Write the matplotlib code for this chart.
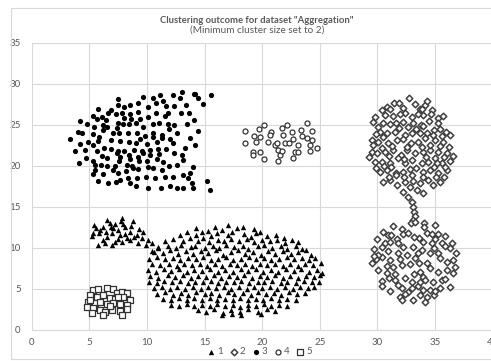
import matplotlib
matplotlib.use("Agg")
import matplotlib.pyplot as plt
from matplotlib.patches import Rectangle

plt.rcParams['font.family'] = ['Lato', 'DejaVu Sans']

# cluster 1 (triangles): small group on the left
c1_left = [(7.81, 13.61), (6.56, 13.41), (5.41, 12.80), (6.79, 13.09), (7.08, 12.39), (8.82, 13.33),
           (7.95, 12.92), (6.16, 12.52), (5.35, 11.78), (5.20, 11.46), (5.87, 11.78), (6.50, 11.38),
           (7.00, 11.78), (7.66, 11.58), (8.53, 11.99), (8.88, 11.38), (9.69, 11.99), (5.78, 10.36),
           (6.36, 10.57), (6.94, 10.36), (7.23, 10.77), (7.81, 10.77), (8.24, 11.18), (8.53, 10.97),
           (9.25, 10.57), (10.12, 10.97), (10.41, 10.57), (10.93, 9.96), (7.75, 13.25), (7.20, 12.95),
           (5.90, 12.20), (6.45, 12.00), (7.50, 12.20), (8.10, 12.50), (8.60, 12.70), (9.10, 11.60),
           (6.90, 12.55), (6.20, 11.00), (7.50, 11.10), (8.10, 11.70), (9.60, 11.20), (5.60, 12.40),
           (9.90, 10.40), (10.40, 9.60), (9.30, 12.30)]

# cluster 1 (triangles): big lower group
c1_main = [
    (14.3, 12.4), (15.3, 12.1), (15.9, 12.6), (16.5, 12.2), (17.0, 12.8), (17.8, 12.4), (18.3, 12.6), (19.3, 12.3), (19.8, 11.9),
    (12.9, 11.6), (13.5, 12.0), (14.3, 11.6), (14.8, 11.9), (15.6, 11.5), (16.1, 11.8), (17.0, 11.6), (17.4, 12.0), (18.4, 11.7),
    (19.0, 11.4), (19.5, 11.8), (20.4, 11.5), (21.2, 11.6), (21.9, 11.2),
    (11.6, 10.9), (12.3, 11.1), (13.1, 10.8), (13.7, 11.2), (14.4, 10.9), (14.9, 11.2), (15.4, 10.7), (16.2, 11.0), (16.7, 10.8),
    (17.3, 11.1), (18.0, 10.9), (18.7, 11.1), (19.3, 10.7), (20.0, 11.0), (20.7, 10.8), (21.3, 11.0), (22.0, 10.6), (22.6, 11.0), (23.1, 10.7),
    (11.0, 10.1), (11.8, 10.3), (12.5, 10.0), (13.0, 10.4), (13.8, 10.1), (14.2, 10.3), (15.0, 10.0), (15.7, 10.3), (16.3, 10.0),
    (16.9, 10.4), (17.6, 10.1), (18.3, 10.3), (18.8, 9.9), (19.6, 10.2), (20.2, 10.4), (20.9, 10.0), (21.6, 10.3), (22.2, 9.9), (22.9, 10.2), (23.5, 9.9),
    (10.6, 9.5), (11.4, 9.4), (12.0, 9.7), (12.7, 9.3), (13.4, 9.6), (14.0, 9.3), (14.7, 9.6), (15.3, 9.4), (16.0, 9.7), (16.6, 9.2),
    (17.3, 9.5), (17.9, 9.7), (18.5, 9.3), (19.2, 9.5), (19.9, 9.2), (20.5, 9.6), (21.1, 9.3), (21.8, 9.6), (22.5, 9.3), (23.1, 9.5), (23.8, 9.7), (24.2, 9.2),
    (10.2, 8.7), (10.9, 8.9), (11.6, 8.6), (12.3, 8.8), (12.9, 8.5), (13.6, 8.8), (14.3, 8.6), (14.9, 8.9), (15.6, 8.5), (16.2, 8.7),
    (16.9, 8.9), (17.5, 8.5), (18.2, 8.7), (18.9, 8.9), (19.5, 8.6), (20.2, 8.8), (20.8, 8.5), (21.5, 8.7), (22.2, 8.9), (22.8, 8.6), (23.5, 8.8), (24.1, 8.5), (24.6, 8.8),
    (10.4, 8.0), (11.1, 7.9), (11.9, 8.1), (12.6, 7.8), (13.2, 8.1), (13.9, 7.9), (14.6, 8.1), (15.2, 7.8), (15.9, 8.0), (16.5, 7.8),
    (17.2, 8.1), (17.8, 7.9), (18.5, 8.1), (19.1, 7.8), (19.8, 8.0), (20.4, 7.9), (21.1, 8.1), (21.8, 7.8), (22.4, 8.0), (23.1, 7.8), (23.7, 8.1), (24.4, 7.9), (25.1, 8.2),
    (10.1, 7.3), (10.8, 7.1), (11.5, 7.4), (12.1, 7.2), (12.8, 7.4), (13.5, 7.1), (14.1, 7.3), (14.8, 7.2), (15.5, 7.4), (16.2, 7.1),
    (16.8, 7.3), (17.5, 7.1), (18.2, 7.4), (18.8, 7.2), (19.5, 7.4), (20.1, 7.1), (20.8, 7.3), (21.4, 7.1), (22.1, 7.4), (22.8, 7.2), (23.4, 7.4), (24.1, 7.1), (24.8, 7.3), (25.2, 7.0),
    (10.3, 6.6), (11.0, 6.4), (11.8, 6.7), (12.4, 6.5), (13.1, 6.7), (13.8, 6.4), (14.4, 6.6), (15.1, 6.5), (15.8, 6.7), (16.4, 6.4),
    (17.1, 6.6), (17.8, 6.5), (18.4, 6.7), (19.1, 6.4), (19.8, 6.6), (20.4, 6.5), (21.1, 6.7), (21.8, 6.4), (22.4, 6.6), (23.1, 6.4), (23.8, 6.6), (24.5, 6.5), (25.0, 6.7),
    (10.2, 5.9), (10.9, 5.7), (11.5, 6.0), (12.2, 5.8), (12.9, 6.0), (13.6, 5.7), (14.2, 5.9), (14.9, 5.8), (15.6, 6.0), (16.2, 5.7),
    (16.9, 5.9), (17.6, 5.8), (18.2, 6.0), (18.9, 5.7), (19.6, 5.9), (20.2, 5.8), (20.9, 6.0), (21.6, 5.7), (22.2, 5.9), (22.9, 5.7), (23.6, 6.0), (24.3, 5.8), (24.9, 5.9),
    (10.6, 5.1), (11.3, 5.2), (12.0, 5.0), (12.6, 5.3), (13.3, 5.0), (14.0, 5.2), (14.7, 5.0), (15.3, 5.3), (16.0, 5.1), (16.7, 5.2),
    (17.3, 5.0), (18.0, 5.3), (18.7, 5.0), (19.3, 5.2), (20.0, 5.1), (20.7, 5.3), (21.3, 5.0), (22.0, 5.2), (22.7, 5.0), (23.3, 5.3), (24.0, 5.1), (24.5, 5.3),
    (10.9, 4.4), (11.6, 4.6), (12.3, 4.3), (13.0, 4.5), (13.6, 4.3), (14.3, 4.6), (15.0, 4.4), (15.6, 4.5), (16.3, 4.3), (17.0, 4.6),
    (17.6, 4.4), (18.3, 4.5), (19.0, 4.3), (19.6, 4.6), (20.3, 4.4), (21.0, 4.5), (21.6, 4.3), (22.3, 4.6), (23.0, 4.4), (23.7, 4.5),
    (11.4, 3.8), (12.1, 3.7), (12.8, 3.9), (13.5, 3.6), (14.1, 3.9), (14.8, 3.7), (15.5, 3.9), (16.1, 3.6), (16.8, 3.8), (17.5, 3.7),
    (18.1, 3.9), (18.8, 3.6), (19.5, 3.8), (20.1, 3.7), (20.8, 3.9), (21.5, 3.6), (22.2, 3.8), (22.9, 3.6),
    (12.1, 3.1), (12.8, 2.9), (13.5, 3.2), (14.1, 2.9), (14.8, 3.1), (15.5, 2.9), (16.1, 3.2), (16.8, 2.9), (17.5, 3.1), (18.1, 2.8),
    (18.8, 3.1), (19.5, 2.9), (20.2, 3.2), (20.8, 2.9), (21.5, 3.1), (22.2, 2.9),
    (14.4, 2.4), (15.1, 2.2), (15.8, 2.5), (16.6, 2.1), (17.3, 2.4), (18.1, 2.2), (18.8, 2.5), (19.6, 2.2), (20.4, 2.5), (21.1, 2.3),
    (16.5, 1.8), (17.4, 1.9), (18.2, 1.8), (19.9, 1.9)]

# cluster 2 (diamonds): right-hand pair of groups and the bridge between them
c2 = [
    (32.78, 28.25), (30.82, 27.24), (31.45, 27.64), (31.92, 27.64), (33.28, 27.56), (34.14, 27.44), (34.29, 27.97), (32.26, 27.03),
    (33.71, 26.91), (34.72, 26.83), (29.80, 26.02), (30.67, 26.22), (31.34, 26.10), (32.41, 26.42), (32.99, 26.02), (34.00, 26.22),
    (35.30, 25.81), (35.68, 26.10), (29.66, 25.41), (30.53, 25.20), (31.11, 25.08), (31.63, 25.20), (32.26, 25.41), (33.13, 25.20),
    (33.77, 25.00), (34.52, 25.53), (35.30, 25.20), (30.24, 24.19), (30.82, 23.98), (31.54, 24.19), (32.41, 23.78), (32.99, 23.98),
    (33.71, 23.98), (34.35, 24.07), (35.45, 24.47), (36.31, 23.78), (29.51, 23.17), (30.09, 22.97), (30.96, 22.77), (31.68, 23.17),
    (32.26, 23.25), (32.90, 22.77), (33.57, 22.97), (34.14, 23.37), (35.01, 23.17), (35.74, 22.97), (29.51, 21.75), (29.95, 21.63),
    (30.67, 21.75), (31.40, 21.95), (32.03, 21.34), (32.55, 21.95), (33.28, 21.55), (34.00, 21.75), (34.58, 21.95), (35.30, 21.75),
    (36.03, 21.55), (29.80, 20.53), (30.38, 20.53), (31.11, 20.33), (31.83, 20.94), (32.41, 20.33), (32.99, 20.73), (33.86, 20.33),
    (34.43, 20.53), (35.01, 20.94), (35.59, 20.33), (36.31, 20.65), (30.24, 19.31), (30.82, 19.51), (31.63, 19.11), (32.26, 19.31),
    (32.99, 18.90), (34.00, 19.31), (34.58, 19.51), (35.30, 19.11), (36.03, 19.51), (30.53, 18.09), (31.11, 18.29), (31.68, 17.68),
    (32.41, 18.09), (32.84, 17.48), (33.71, 17.89), (34.43, 18.29), (34.87, 17.68), (35.45, 18.09), (32.26, 16.87), (33.42, 17.07),
    (32.70, 16.26), (34.00, 16.67), (31.10, 27.00), (33.50, 26.40), (30.10, 24.70), (34.90, 24.40), (31.30, 22.40), (33.90, 22.30),
    (35.80, 21.10), (30.60, 20.00), (33.40, 19.80), (35.80, 18.70), (31.60, 18.90), (33.10, 18.20),
    (29.90, 23.90), (30.50, 23.50), (31.90, 24.60), (32.70, 24.80), (33.40, 24.50), (34.00, 24.90), (34.80, 23.80), (35.60, 23.60),
    (36.00, 24.20), (29.60, 22.50), (30.40, 22.20), (32.60, 22.30), (34.60, 22.60), (35.40, 22.40), (36.20, 22.30), (29.30, 21.10),
    (31.00, 21.20), (32.30, 20.90), (34.20, 21.10), (35.20, 20.40), (36.60, 21.20), (29.90, 19.80), (31.20, 19.90), (32.80, 19.60),
    (34.90, 19.90), (35.90, 19.90), (31.00, 18.70), (32.30, 18.60), (34.00, 18.60), (35.10, 18.60), (30.40, 26.80), (32.00, 26.40),
    (33.90, 27.00), (34.70, 26.30),
    (32.99, 15.65), (33.07, 15.04), (33.19, 14.43), (33.28, 13.90), (33.13, 13.41), (32.90, 13.00), (33.28, 13.21), (34.06, 13.09),
    (34.06, 12.60), (35.01, 12.80),
    (30.53, 11.99), (31.34, 12.68), (32.12, 12.27), (30.96, 11.58), (31.68, 11.05), (32.26, 11.66), (32.70, 11.78), (34.29, 11.78),
    (34.72, 11.70), (35.30, 11.66), (35.88, 11.46), (29.72, 9.83), (30.38, 10.16), (30.67, 10.65), (31.11, 10.77), (31.83, 10.57),
    (32.26, 10.16), (33.13, 10.16), (34.00, 10.77), (34.72, 10.57), (35.59, 10.65), (36.31, 9.96), (30.38, 8.94), (31.11, 8.53),
    (31.83, 9.35), (32.55, 9.14), (33.28, 8.74), (33.86, 9.75), (34.58, 9.43), (35.30, 9.35), (35.45, 8.74), (36.03, 8.33),
    (36.55, 8.53), (29.51, 8.13), (30.09, 7.32), (30.82, 6.99), (31.54, 6.83), (32.12, 7.92), (32.84, 8.05), (33.71, 7.11),
    (34.00, 6.50), (34.58, 7.52), (35.30, 7.11), (36.03, 7.32), (36.60, 6.99), (30.38, 6.01), (31.54, 6.09), (32.41, 6.30),
    (32.99, 5.89), (33.57, 5.37), (34.14, 6.09), (34.87, 5.89), (35.59, 6.09), (36.31, 5.20), (31.11, 4.79), (32.12, 5.08),
    (32.70, 4.67), (32.99, 5.08), (33.71, 4.27), (34.58, 4.87), (34.93, 4.27), (35.45, 5.08), (31.97, 4.06), (33.13, 3.66),
    (34.29, 4.06), (34.14, 3.45), (32.12, 3.66), (33.60, 11.20), (30.10, 9.20), (33.50, 9.40), (31.40, 7.70), (33.20, 6.80),
    (35.90, 10.20), (29.90, 8.70), (34.30, 8.20), (31.80, 5.50), (35.00, 4.70), (30.00, 11.10), (31.20, 11.60), (33.20, 11.30),
    (35.00, 11.10), (36.50, 10.60), (29.70, 9.00), (30.90, 9.60), (32.00, 8.60), (34.90, 10.00), (36.80, 9.40), (30.80, 7.80),
    (33.60, 8.20), (35.90, 6.20), (31.00, 6.40), (33.70, 5.90), (32.40, 4.40), (34.00, 4.90), (36.70, 7.70), (30.40, 5.40)]

# cluster 3 (filled dots): upper-left group
c3 = [
    (13.08, 29.07), (14.12, 28.74), (12.29, 28.66), (11.14, 28.66), (10.50, 28.25), (9.69, 28.46), (9.20, 27.73), (8.53, 27.44),
    (8.04, 27.24), (7.46, 28.17), (7.52, 27.44), (6.86, 26.83), (7.32, 26.30), (7.81, 26.42), (8.53, 26.30), (9.26, 26.63),
    (10.12, 27.24), (10.79, 27.64), (11.43, 27.97), (11.66, 27.32), (12.35, 27.32), (12.87, 28.25), (13.40, 27.44), (13.68, 26.42),
    (12.96, 26.42), (11.80, 26.42), (11.57, 26.10), (10.79, 26.51), (10.12, 25.94), (9.40, 25.69), (8.62, 25.69), (8.04, 25.82),
    (7.46, 25.29), (6.59, 26.42), (6.45, 25.61), (5.78, 26.91), (5.35, 26.10), (6.07, 26.02), (5.64, 25.69), (4.19, 25.53),
    (4.77, 25.12), (5.41, 24.80), (6.16, 25.00), (6.57, 24.80), (7.38, 24.68), (7.90, 25.08), (8.48, 25.08), (9.06, 25.21),
    (9.69, 24.80), (10.56, 25.12), (11.08, 25.21), (11.80, 25.08), (12.35, 25.00), (13.45, 25.08), (14.12, 25.61), (12.58, 23.99),
    (11.95, 24.51), (11.28, 23.78), (10.56, 23.99), (9.83, 23.66), (9.17, 23.99), (8.39, 24.07), (7.61, 23.99), (7.03, 23.99),
    (6.16, 24.39), (5.35, 23.90), (4.05, 24.19), (4.34, 23.99), (3.32, 23.29), (4.92, 22.97), (4.19, 22.64), (3.76, 21.83),
    (4.63, 21.95), (5.35, 22.56), (5.78, 23.05), (5.87, 23.50), (6.88, 23.17), (7.66, 23.05), (8.48, 22.97), (9.03, 22.77),
    (9.40, 23.25), (9.98, 22.64), (10.50, 23.58), (10.85, 22.97), (11.28, 23.38), (12.00, 23.25), (12.29, 22.77), (11.66, 22.08),
    (10.99, 22.03), (10.27, 21.95), (9.55, 21.83), (8.91, 21.95), (8.04, 21.83), (7.52, 21.83), (6.86, 22.03), (6.28, 22.16),
    (5.64, 21.83), (4.71, 21.02), (4.13, 20.33), (5.35, 20.61), (5.49, 20.12), (6.07, 21.22), (6.57, 21.02), (7.43, 21.63),
    (7.66, 21.14), (7.61, 20.61), (8.48, 21.34), (8.53, 20.86), (9.20, 21.14), (9.69, 21.55), (10.27, 21.34), (11.08, 21.42),
    (11.37, 20.53), (12.35, 21.55), (13.02, 21.34), (13.10, 20.73), (10.85, 20.86), (9.98, 20.61), (9.34, 20.61), (8.68, 20.00),
    (8.24, 20.12), (7.23, 20.00), (6.57, 20.00), (6.02, 20.12), (5.49, 19.51), (5.35, 18.99), (6.16, 19.03), (7.03, 19.51),
    (7.52, 19.11), (8.19, 19.43), (8.77, 19.72), (9.26, 19.60), (10.12, 19.84), (10.56, 19.72), (11.28, 19.51), (11.95, 20.00),
    (12.58, 20.12), (14.03, 19.84), (13.74, 19.11), (13.16, 18.91), (12.29, 18.70), (11.57, 18.70), (10.70, 18.50), (9.92, 18.62),
    (9.17, 18.50), (8.33, 18.50), (7.66, 18.29), (7.32, 18.09), (5.78, 18.21), (6.59, 17.89), (8.53, 17.89), (9.06, 17.56),
    (10.12, 17.28), (11.22, 17.28), (12.00, 17.56), (12.58, 17.28), (13.16, 17.28), (13.97, 17.28), (15.53, 28.66), (14.90, 27.52),
    (14.17, 28.78), (14.46, 28.25), (15.19, 18.17), (15.48, 17.07), (13.60, 18.58), (13.88, 17.97), (14.20, 22.60), (13.70, 23.40),
    (14.40, 24.30), (13.30, 22.20)]

# cluster 4 (open circles): upper-middle group
c4 = [
    (18.51, 24.27), (19.76, 24.51), (20.19, 25.00), (19.29, 23.66), (19.81, 23.58), (18.51, 22.76), (19.47, 22.97), (19.18, 21.75),
    (19.24, 21.34), (19.81, 21.75), (20.19, 20.81), (20.54, 22.89), (20.74, 24.19), (20.68, 23.78), (21.12, 22.56), (21.26, 22.85),
    (21.69, 24.59), (21.78, 23.78), (22.19, 25.00), (21.41, 21.95), (21.55, 21.34), (21.35, 20.65), (21.69, 21.83), (21.98, 22.85),
    (22.36, 22.76), (22.56, 24.19), (22.71, 23.25), (23.14, 22.56), (22.85, 21.75), (23.14, 21.67), (22.71, 21.02), (23.37, 24.39),
    (23.43, 23.66), (23.87, 25.20), (24.30, 24.27), (23.92, 23.37), (24.30, 23.17), (24.15, 22.56), (24.73, 22.16), (24.15, 21.83)]

# cluster 5 (open squares): lower-left group
c5 = [
    (5.35, 4.87), (5.78, 4.96), (6.50, 5.08), (7.08, 4.96), (7.37, 4.47), (7.81, 4.67), (8.24, 4.47), (5.06, 4.27), (5.64, 4.06),
    (6.22, 4.27), (6.79, 3.86), (7.23, 3.74), (7.95, 4.06), (8.53, 3.66), (4.91, 3.45), (5.49, 3.25), (5.93, 3.45), (6.50, 3.17),
    (7.08, 3.25), (7.66, 3.17), (8.24, 3.05), (4.77, 2.85), (5.35, 2.64), (5.93, 2.44), (6.36, 2.24), (6.94, 2.44), (7.66, 2.36),
    (5.20, 2.03), (6.22, 1.83), (7.81, 1.83), (5.06, 3.66), (7.52, 4.06), (6.80, 2.90), (8.30, 2.50)]

grey = '#595959'
grid = '#d9d9d9'

fig = plt.figure(figsize=(4.91, 3.61), dpi=100)
fig.patches.append(Rectangle((0.0224, 0.0055), 1.0, 0.972, transform=fig.transFigure,
                             fill=False, edgecolor=grid, lw=0.8))
ax = fig.add_axes([0.0646, 0.0859, 0.9385, 0.795])

c1 = c1_left + c1_main
ax.scatter([p[0] for p in c1], [p[1] for p in c1], marker='^', s=15, c='black', linewidths=0, label='1')
ax.scatter([p[0] for p in c2], [p[1] for p in c2], marker='D', s=11, facecolors='white', edgecolors='#3f3f3f',
           linewidths=1.1, label='2')
ax.scatter([p[0] for p in c3], [p[1] for p in c3], marker='o', s=14, c='black', linewidths=0, label='3')
ax.scatter([p[0] for p in c4], [p[1] for p in c4], marker='o', s=13, facecolors='white', edgecolors='#333333',
           linewidths=0.9, label='4')
ax.scatter([p[0] for p in c5], [p[1] for p in c5], marker='s', s=13, facecolors='white', edgecolors='#333333',
           linewidths=0.9, label='5')

ax.set_xlim(0, 40)
ax.set_ylim(0, 35)
ax.set_xticks(range(0, 41, 5))
ax.set_yticks(range(0, 36, 5))
ax.grid(True, color=grid, lw=0.8)
ax.set_axisbelow(True)
for side in ['top', 'right', 'left']:
    ax.spines[side].set_visible(False)
ax.spines['bottom'].set_color(grid)
ax.tick_params(length=0, labelsize=7, colors=grey)
ax.tick_params(axis='y', pad=8)
ax.tick_params(axis='x', pad=6)

fig.text(0.523, 0.943, 'Clustering outcome for dataset "Aggregation"', ha='center', va='center',
         fontsize=6.8, fontweight='bold', color=grey)
fig.text(0.523, 0.918, '(Minimum cluster size set to 2)', ha='center', va='center',
         fontsize=7.2, color=grey)

leg = fig.legend(loc='center', bbox_to_anchor=(0.53, 0.025), ncol=5, frameon=False, fontsize=7,
                 handlelength=0.6, handletextpad=0.3, columnspacing=0.8, borderpad=0)
for t in leg.get_texts():
    t.set_color(grey)

fig.savefig('out.png', dpi=100)
